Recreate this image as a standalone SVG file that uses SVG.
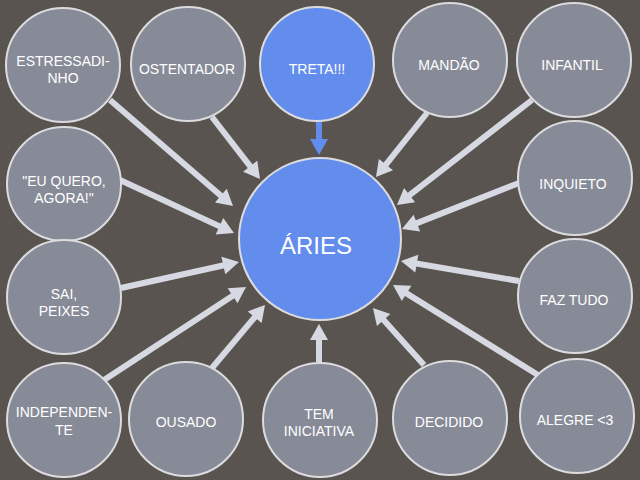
<svg xmlns="http://www.w3.org/2000/svg" width="640" height="480" viewBox="0 0 640 480">
<style>
.n{fill:#878a97;stroke:#dcdcdf;stroke-width:2}
.b{fill:#628ded;stroke:#dcdcdf;stroke-width:2}
.t{font-family:"Liberation Sans",Arial,sans-serif;font-size:14px;fill:#ffffff;text-anchor:middle}
.big{font-size:24px}
.c line{stroke:#d6d9e1;stroke-width:6;marker-end:url(#ah)}
.c line.bl{stroke:#628ded;marker-end:url(#ahb)}
</style>
<defs>
<marker id="ah" markerUnits="userSpaceOnUse" markerWidth="20" markerHeight="20" viewBox="0 -10 18 20" refX="2" refY="0" orient="auto"><path d="M0,-9 L16,0 L0,9 z" fill="#d6d9e1"/></marker>
<marker id="ahb" markerUnits="userSpaceOnUse" markerWidth="20" markerHeight="20" viewBox="0 -10 18 20" refX="2" refY="0" orient="auto"><path d="M0,-9 L16,0 L0,9 z" fill="#628ded"/></marker>
</defs>
<rect width="640" height="480" fill="#5a5450"/>
<g class="c" id="connectors">
<line x1="110" y1="100" x2="222.4" y2="196.9"/>
<line x1="212" y1="117" x2="251.4" y2="167.9"/>
<line x1="120" y1="180" x2="221.3" y2="227.1"/>
<line class="bl" x1="319" y1="120" x2="319" y2="141"/>
<line x1="427" y1="113" x2="384.7" y2="166.1"/>
<line x1="532" y1="100" x2="408" y2="196.4"/>
<line x1="519" y1="183" x2="415" y2="223.9"/>
<line x1="121" y1="288" x2="225.3" y2="265"/>
<line x1="104" y1="380" x2="234.3" y2="294.7"/>
<line x1="212" y1="368" x2="256" y2="315.7"/>
<line x1="319" y1="362" x2="319" y2="338"/>
<line x1="424" y1="365" x2="382.3" y2="318.4"/>
<line x1="538" y1="375" x2="404.9" y2="292.4"/>
<line x1="519" y1="281" x2="414.8" y2="263.3"/>
</g>
<g id="aries"><circle class="b" cx="320" cy="239" r="81"/><text class="t big" x="316" y="254">ÁRIES</text></g>
<g id="estressadinho"><circle class="n" cx="63" cy="65" r="57"/><text class="t" x="63" y="66">ESTRESSADI-</text><text class="t" x="63" y="83">NHO</text></g>
<g id="ostentador"><circle class="n" cx="188" cy="64" r="57"/><text class="t" x="187" y="74">OSTENTADOR</text></g>
<g id="treta"><circle class="b" cx="317" cy="64" r="57"/><text class="t" x="317" y="74">TRETA!!!</text></g>
<g id="mandao"><circle class="n" cx="450" cy="60" r="57"/><text class="t" x="449" y="70">MANDÃO</text></g>
<g id="infantil"><circle class="n" cx="574" cy="60" r="57"/><text class="t" x="572" y="70">INFANTIL</text></g>
<g id="inquieto"><circle class="n" cx="575" cy="178" r="57"/><text class="t" x="573" y="189">INQUIETO</text></g>
<g id="euquero"><circle class="n" cx="64" cy="184" r="57"/><text class="t" x="64" y="186">"EU QUERO,</text><text class="t" x="64" y="203">AGORA!"</text></g>
<g id="saipeixes"><circle class="n" cx="64" cy="297" r="57"/><text class="t" x="64" y="299">SAI,</text><text class="t" x="64" y="316">PEIXES</text></g>
<g id="independente"><circle class="n" cx="64" cy="420" r="57"/><text class="t" x="64" y="417">INDEPENDEN-</text><text class="t" x="64" y="435">TE</text></g>
<g id="ousado"><circle class="n" cx="186" cy="419" r="57"/><text class="t" x="186" y="427">OUSADO</text></g>
<g id="teminiciativa"><circle class="n" cx="320" cy="420" r="57"/><text class="t" x="319" y="419">TEM</text><text class="t" x="319" y="436">INICIATIVA</text></g>
<g id="decidido"><circle class="n" cx="450" cy="418" r="57"/><text class="t" x="449" y="427">DECIDIDO</text></g>
<g id="alegre"><circle class="n" cx="577" cy="416" r="57"/><text class="t" x="575" y="425">ALEGRE &lt;3</text></g>
<g id="faztudo"><circle class="n" cx="575" cy="296" r="57"/><text class="t" x="574" y="305">FAZ TUDO</text></g>
</svg>
